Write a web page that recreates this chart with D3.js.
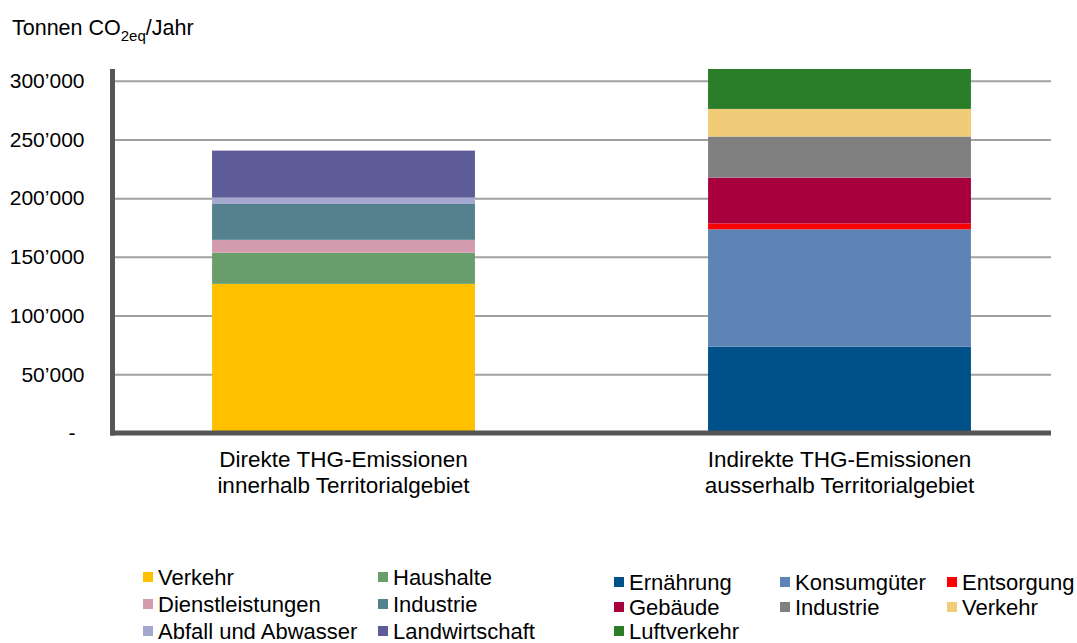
<!DOCTYPE html>
<html>
<head>
<meta charset="utf-8">
<script src="https://cdn.jsdelivr.net/npm/d3@7"></script>
<style>
	body { margin: 0; background: #fff; }
	svg text { font-family: Arial, "Liberation Sans", sans-serif; fill: #000; }
</style>
</head>
<body>
<div id="container"></div>
<script>
// chart data
let categories = ["Direkte THG-Emissionen|innerhalb Territorialgebiet", "Indirekte THG-Emissionen|ausserhalb Territorialgebiet"];

let direktNames = ["Verkehr", "Haushalte", "Dienstleistungen", "Industrie", "Abfall und Abwasser", "Landwirtschaft"];
let direktValues = [127000, 26500, 11000, 31000, 5000, 40000];
let direktColors = ["#ffc000", "#6a9d6c", "#d29cae", "#55818e", "#a4a8d0", "#5d5b98"];

let indirektNames = ["Ernährung", "Konsumgüter", "Entsorgung", "Gebäude", "Industrie", "Verkehr", "Luftverkehr"];
let indirektValues = [73500, 100000, 5000, 39000, 35000, 23500, 34000];
let indirektColors = ["#00508a", "#5e84b6", "#ff0000", "#a8003d", "#808080", "#f0cc78", "#2a7e2a"];

let yTicks = [0, 50000, 100000, 150000, 200000, 250000, 300000];
let yMax = 310000;

let width = 1077, height = 643;
let plotLeft = 112.5, plotRight = 1051, plotTop = 69, plotBottom = 433;

let svg = d3.select("div#container").append("svg")
	.attr("width", width)
	.attr("height", height);

let xScale = d3.scaleBand().domain(categories).range([95.5, 1087.5]).paddingInner(0.47).paddingOuter(0.235);
let yScale = d3.scaleLinear().domain([0, yMax]).range([plotBottom, plotTop]);

let swiss = d3.formatLocale({decimal: ".", thousands: "\u2019", grouping: [3], currency: ["", ""]});
let fmt = swiss.format(",d");

// title
let title = svg.append("text").attr("x", 12).attr("y", 35).style("font-size", "21.5px");
title.append("tspan").text("Tonnen CO");
title.append("tspan").attr("dy", 6).style("font-size", "15px").text("2eq");
title.append("tspan").attr("dy", -6).text("/Jahr");

// gridlines + tick labels
let yAxis = svg.append("g")
	.attr("transform", "translate(" + plotLeft + ",0)")
	.call(d3.axisLeft(yScale).tickValues(yTicks).tickSize(-(plotRight - plotLeft)).tickPadding(28)
		.tickFormat(d => d === 0 ? "-" : fmt(d)));
yAxis.select(".domain").remove();
yAxis.selectAll(".tick line").attr("stroke", "#a0a0a0").attr("stroke-width", 2);
yAxis.selectAll(".tick text").style("font-size", "21px").attr("fill", "#000");
yAxis.selectAll(".tick text").filter(d => d === 0).attr("dx", -9);

// stacked bars
function drawStack(cat, values, colors){
	let base = 0;
	values.forEach(function(v, i){
		svg.append("rect")
			.attr("x", xScale(cat))
			.attr("width", xScale.bandwidth())
			.attr("y", yScale(base + v))
			.attr("height", yScale(base) - yScale(base + v))
			.attr("fill", colors[i]);
		base += v;
	});
}
drawStack(categories[0], direktValues, direktColors);
drawStack(categories[1], indirektValues, indirektColors);

// axis lines
svg.append("line")
	.attr("x1", plotLeft).attr("x2", plotLeft)
	.attr("y1", yScale(yMax)).attr("y2", plotBottom + 2.5)
	.attr("stroke", "#555").attr("stroke-width", 5);
svg.append("line")
	.attr("x1", plotLeft - 2.5).attr("x2", plotRight)
	.attr("y1", plotBottom).attr("y2", plotBottom)
	.attr("stroke", "#555").attr("stroke-width", 5);

// category labels
categories.forEach(function(c){
	let t = svg.append("text")
		.attr("text-anchor", "middle")
		.attr("y", 467)
		.style("font-size", "22.5px");
	c.split("|").forEach(function(line, i){
		t.append("tspan")
			.attr("x", xScale(c) + xScale.bandwidth() / 2)
			.attr("dy", i === 0 ? 0 : 26)
			.text(line);
	});
});

// legends
function drawLegend(names, colors, cols, colX, rowY){
	names.forEach(function(name, i){
		let cx = colX[i % cols];
		let cy = rowY[Math.floor(i / cols)];
		svg.append("rect")
			.attr("x", cx).attr("y", cy - 5)
			.attr("width", 10).attr("height", 10)
			.attr("fill", colors[i]);
		svg.append("text")
			.attr("x", cx + 15).attr("y", cy + 7.5)
			.style("font-size", "22px")
			.text(name);
	});
}
drawLegend(direktNames, direktColors, 2, [143, 378], [577, 604, 631]);
drawLegend(indirektNames, indirektColors, 3, [614, 780, 947], [582, 607, 631]);
</script>
</body>
</html>
